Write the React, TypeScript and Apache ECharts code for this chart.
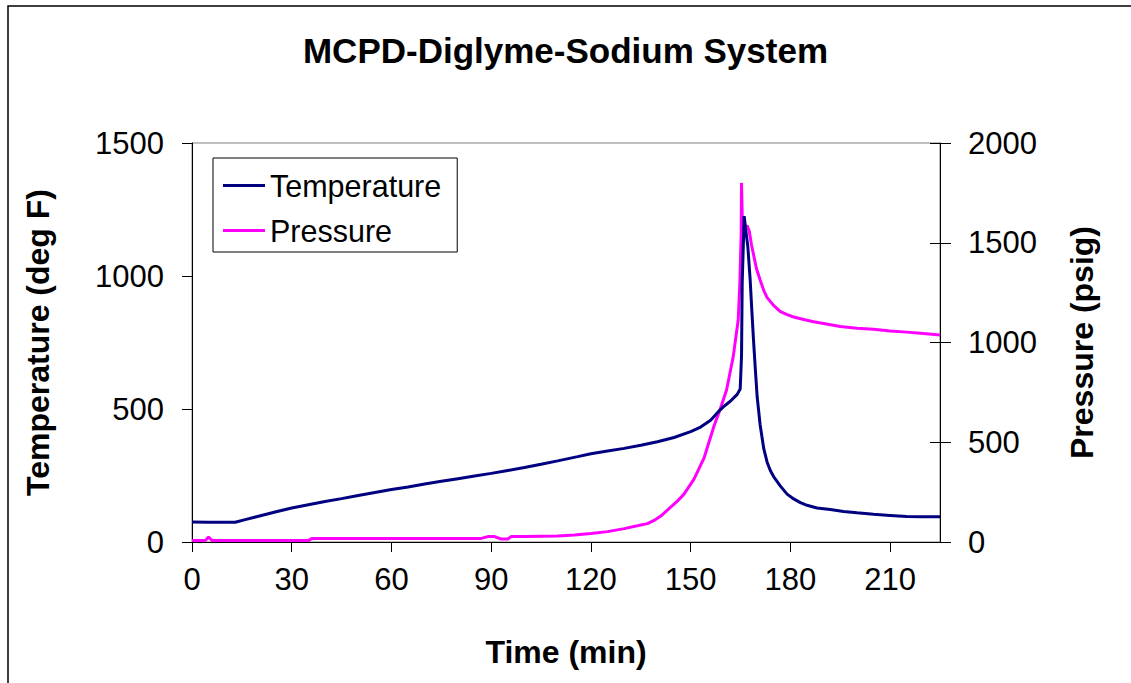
import React, { useEffect, useRef } from "react";
import * as echarts from "echarts";

const titleText = "MCPD-Diglyme-Sodium System";
const xTickValues = [0, 30, 60, 90, 120, 150, 180, 210];

const tempTime = [0, 5, 10, 13, 16, 20, 25, 30, 35, 40, 45, 50, 55, 60, 65, 70, 75, 80, 85, 90, 95, 100, 105, 110, 116, 120, 125, 130, 135, 140, 145, 150, 153, 156, 158.8, 160, 162, 164, 164.9, 165.3, 165.5, 166.1, 166.6, 167.2, 167.9, 168.4, 168.9, 169.5, 170, 170.9, 172, 173, 174, 175, 177, 179, 181, 183, 185, 188, 192, 196, 200, 205, 210, 215, 220, 225];
const tempValues = [75, 74, 74, 74, 84, 97, 113, 128, 140, 152, 163, 175, 186, 197, 207, 218, 228, 238, 248, 258, 269, 280, 292, 305, 321, 332, 342, 352, 364, 377, 393, 415, 432, 458, 496, 510, 530, 555, 575, 700, 974, 1225, 1170, 1110, 985, 870, 760, 640, 546, 440, 350, 300, 268, 245, 210, 180, 162, 148, 138, 128, 122, 115, 110, 104, 100, 96, 95, 95];

const presTime = [0, 4, 5, 6, 10, 20, 30, 35, 36, 50, 60, 70, 80, 87, 89, 91, 93, 95, 96, 100, 110, 115, 120, 125, 130, 135, 137, 139, 141, 143, 146, 148, 151, 154, 157, 158.8, 160.8, 162.8, 164.3, 164.8, 165.2, 165.3, 165.6, 166.2, 167, 167.6, 168.3, 168.8, 169.8, 170.9, 172, 173, 174, 175, 177, 179, 181, 184, 187, 190, 195, 200, 205, 210, 215, 220, 225];
const presValues = [7, 7, 25, 7, 7, 7, 7, 7, 17, 17, 17, 17, 17, 18, 27, 27, 15, 15, 27, 27, 30, 35, 43, 52, 67, 85, 92, 108, 130, 160, 205, 240, 315, 420, 580, 662, 762, 929, 1113, 1298, 1550, 1800, 1560, 1575, 1585, 1560, 1490, 1449, 1370, 1313, 1260, 1225, 1205, 1185, 1155, 1140, 1128, 1115, 1104, 1095, 1080, 1072, 1066, 1058, 1052, 1045, 1038];

const zip = (xs: number[], ys: number[]) => xs.map((x, i) => [x, ys[i]]);

const FONT = "'Liberation Sans', Arial, sans-serif";
const plain = (v: number) => String(v);

export default function App() {
  const ref = useRef<HTMLDivElement>(null);
  useEffect(() => {
    if (!ref.current) return;
    const chart = echarts.init(ref.current, undefined, { renderer: "svg" });
    const labelStyle = { color: "#000", fontSize: 31, fontFamily: FONT, formatter: plain };
    const nameStyle = { color: "#000", fontSize: 32, fontWeight: "bold" as const, fontFamily: FONT };
    chart.setOption({
      animation: false,
      backgroundColor: "#fff",
      title: {
        text: titleText,
        left: "center",
        top: 33,
        padding: 0,
        textStyle: { color: "#000", fontSize: 35, fontWeight: "bold", fontFamily: FONT },
      },
      graphic: [
        {
          type: "rect",
          z: -10,
          shape: { x: 8, y: 6, width: 1300, height: 900 },
          style: { fill: "none", stroke: "#000", lineWidth: 1.5 },
          silent: true,
        },
      ],
      legend: {
        orient: "vertical",
        left: 213,
        top: 158,
        padding: [12, 16, 6, 10],
        itemWidth: 42,
        itemHeight: 3,
        itemGap: 14,
        icon: "rect",
        borderColor: "#000",
        borderWidth: 1,
        backgroundColor: "#fff",
        textStyle: { color: "#000", fontSize: 30.5, fontFamily: FONT },
        data: ["Temperature", "Pressure"],
      },
      grid: {
        left: 192,
        right: 191,
        top: 143,
        bottom: 141,
        show: true,
        borderColor: "#808080",
        borderWidth: 1,
        backgroundColor: "transparent",
      },
      xAxis: {
        type: "value",
        min: 0,
        max: 225,
        interval: 30,
        name: "Time (min)",
        nameLocation: "middle",
        nameGap: 94,
        nameTextStyle: nameStyle,
        axisLine: { lineStyle: { color: "#000", width: 1 } },
        axisTick: { show: true, length: 10, lineStyle: { color: "#000" }, customValues: xTickValues },
        axisLabel: { ...labelStyle, margin: 22, customValues: xTickValues },
        splitLine: { show: false },
      },
      yAxis: [
        {
          type: "value",
          position: "left",
          min: 0,
          max: 1500,
          interval: 500,
          name: "Temperature (deg F)",
          nameLocation: "middle",
          nameRotate: 90,
          nameGap: 138,
          nameTextStyle: nameStyle,
          axisLine: { show: true, lineStyle: { color: "#000", width: 1 } },
          axisTick: { show: true, length: 10, lineStyle: { color: "#000" } },
          axisLabel: { ...labelStyle, margin: 28 },
          splitLine: { show: false },
        },
        {
          type: "value",
          position: "right",
          min: 0,
          max: 2000,
          interval: 500,
          name: "Pressure (psig)",
          nameLocation: "middle",
          nameRotate: 90,
          nameGap: 126,
          nameTextStyle: nameStyle,
          axisLine: { show: true, lineStyle: { color: "#000", width: 1 } },
          axisTick: { show: true, length: 11, lineStyle: { color: "#000" } },
          axisLabel: { ...labelStyle, margin: 28 },
          splitLine: { show: false },
        },
        {
          type: "value",
          position: "right",
          min: 0,
          max: 2000,
          interval: 500,
          axisLine: { show: false },
          axisTick: { show: true, inside: true, length: 10, lineStyle: { color: "#000" } },
          axisLabel: { show: false },
          splitLine: { show: false },
        },
      ],
      series: [
        {
          name: "Temperature",
          type: "line",
          yAxisIndex: 0,
          showSymbol: false,
          symbol: "none",
          color: "#000080",
          lineStyle: { color: "#000080", width: 3 },
          data: zip(tempTime, tempValues),
          z: 3,
        },
        {
          name: "Pressure",
          type: "line",
          yAxisIndex: 1,
          showSymbol: false,
          symbol: "none",
          color: "#FF00FF",
          lineStyle: { color: "#FF00FF", width: 3 },
          data: zip(presTime, presValues),
          z: 2,
        },
      ],
    });
    return () => chart.dispose();
  }, []);
  return (
    <div
      ref={ref}
      style={{ position: "fixed", left: 0, top: 0, width: 1131, height: 683, background: "#fff" }}
    />
  );
}
